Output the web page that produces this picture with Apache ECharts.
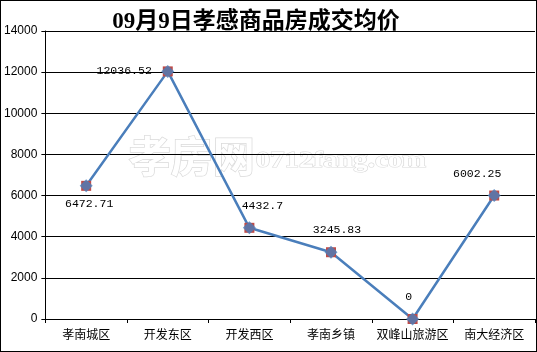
<!DOCTYPE html>
<html><head><meta charset="utf-8">
<script src="https://cdn.jsdelivr.net/npm/echarts@6/dist/echarts.min.js"></script>
<style>html,body{margin:0;padding:0;background:#fff}#c{width:537px;height:352px;box-sizing:border-box;border:1px solid #000}</style>
</head><body><div id="c"></div>
<script>
var categories = ['孝南城区','开发东区','开发西区','孝南乡镇','双峰山旅游区','南大经济区'];
var values = [6472.71, 12036.52, 4432.7, 3245.83, 0, 6002.25];
var labelTexts = ['6472.71','12036.52','4432.7','3245.83','0','6002.25'];
var titleText = '09月9日孝感商品房成交均价';
var yTicks = [0, 2000, 4000, 6000, 8000, 10000, 12000, 14000];

var labelPos = [
  {position:'bottom', offset:[3,2]},
  {position:'left', offset:[-6,0]},
  {position:'top', offset:[13,-6]},
  {position:'top', offset:[6,-6]},
  {position:'top', offset:[-4,-6]},
  {position:'top', offset:[-17,-6]}
];
var chart = echarts.init(document.getElementById('c'), null, {renderer:'canvas'});
var monoFont = '"Liberation Mono","DejaVu Sans Mono",monospace';
var lineData = values.map(function(v,i){
  return {value:v, label:{show:true, position:labelPos[i].position, offset:labelPos[i].offset,
    formatter:labelTexts[i], fontFamily:monoFont, fontSize:11.5, color:'#000'}};
});
chart.setOption({
  animation:false,
  title:{text:titleText, left:250, textAlign:'center', top:5,
    textStyle:{fontSize:23, fontWeight:'bold', color:'#000',
      fontFamily:'"Liberation Serif","Noto Sans CJK SC",serif'}},
  grid:{left:43, right:1, top:30, bottom:32},
  xAxis:{type:'category', data:categories, boundaryGap:true,
    axisLine:{lineStyle:{color:'#000', width:1}},
    axisTick:{show:true, length:4, interval:0, lineStyle:{color:'#000'}, alignWithLabel:false},
    axisLabel:{color:'#000', fontSize:12, margin:9, interval:0, fontFamily:'"Noto Sans CJK SC",sans-serif'}},
  yAxis:{type:'value', min:yTicks[0], max:yTicks[yTicks.length-1], interval:2000,
    axisLine:{show:true, lineStyle:{color:'#000'}},
    axisTick:{show:true, length:4, inside:false, lineStyle:{color:'#000'}},
    splitLine:{lineStyle:{color:'#000', width:1}},
    axisLabel:{color:'#000', fontSize:12, margin:8, formatter:function(v){return String(v);},
      fontFamily:'"Liberation Sans",Arial,sans-serif'}},
  graphic:[
    {type:'text', left:127, top:133, z:0, silent:true,
      style:{text:'孝房网', fontSize:42, fontFamily:'"Noto Sans CJK SC",sans-serif', fontWeight:'bold',
        fill:'#fff', stroke:'#dadada', lineWidth:1.5}},
    {type:'text', left:254, top:147, z:0, silent:true, scaleX:1.2,
      style:{text:'0712fang.com', fontSize:24, fontFamily:'"Liberation Serif",serif', fontWeight:'bold',
        fill:'#fff', stroke:'#dadada', lineWidth:1.2}}
  ],
  series:[
    {type:'line', data:lineData, symbol:'rect', symbolSize:10,
      itemStyle:{color:'#be4b48'}, lineStyle:{color:'#4a7ebb', width:2.5}, z:3},
    {type:'scatter', data:values.map(function(v,i){return [i,v];}), symbol:'diamond', symbolSize:13,
      itemStyle:{color:'#4a7ebb'}, z:5}
  ]
});
</script></body></html>
